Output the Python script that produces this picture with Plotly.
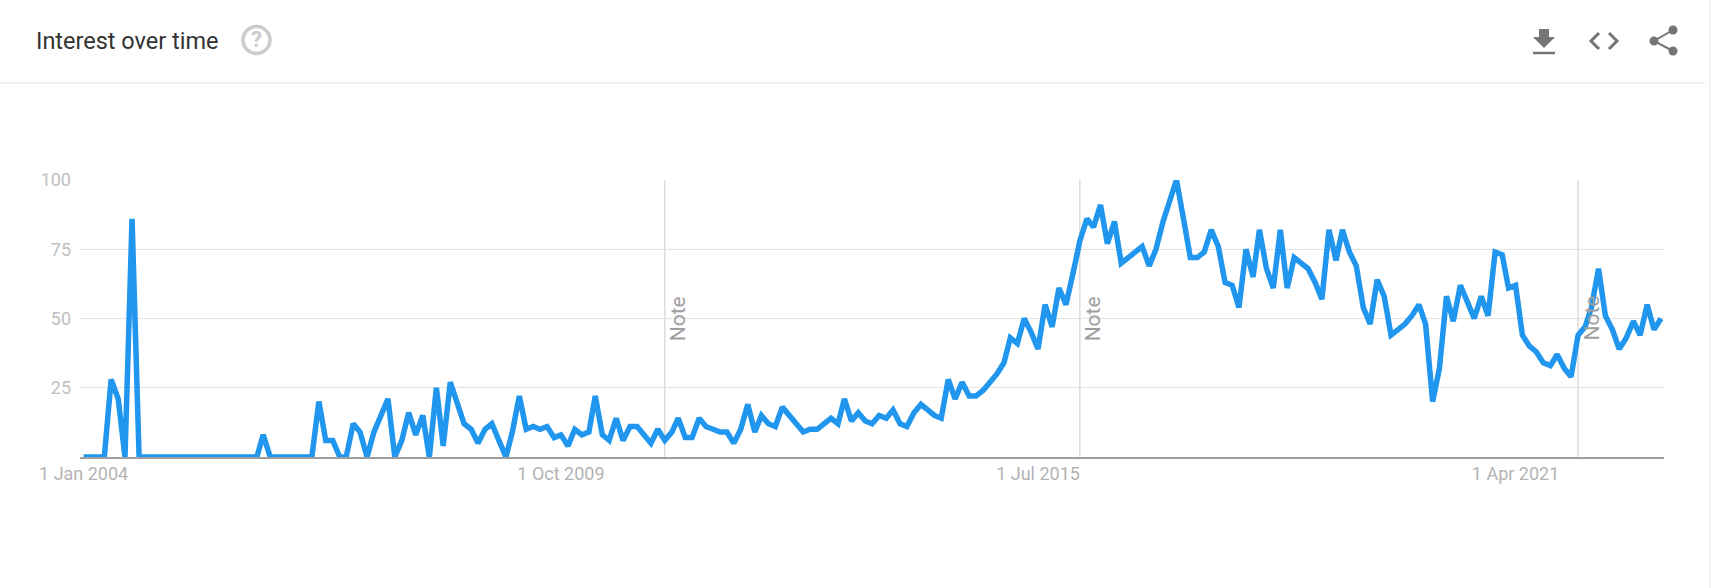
import pandas as pd
import plotly.graph_objects as go

######### DATA #########
interest = [
    0, 0, 0, 0, 28, 21, 0, 86, 0, 0, 0, 0, 0, 0, 0, 0, 0, 0, 0, 0, 0, 0, 0, 0, 0, 0,
    8, 0, 0, 0, 0, 0, 0, 0, 20, 6, 6, 0, 0, 12, 9, 0, 9, 15, 21, 0, 6, 16, 8, 15,
    0, 25, 4, 27, 19, 12, 10, 5, 10, 12, 6, 0, 9, 22, 10, 11, 10, 11, 7, 8,
    4, 10, 8, 9, 22, 8, 6, 14, 6, 11, 11, 8, 5, 10, 6, 9, 14, 7, 7, 14,
    11, 10, 9, 9, 5, 10, 19, 9, 15, 12, 11, 18, 15, 12, 9, 10, 10, 12, 14, 12,
    21, 13, 16, 13, 12, 15, 14, 17, 12, 11, 16, 19, 17, 15, 14, 28, 21, 27, 22, 22,
    24, 27, 30, 34, 43, 41, 50, 45, 39, 55, 47, 61, 55, 66, 78, 86, 83, 91, 77, 85,
    70, 72, 74, 76, 69, 75, 85, 93, 100, 86, 72, 72, 74, 82, 76, 63, 62, 54, 75, 65,
    82, 68, 61, 82, 61, 72, 70, 68, 63, 57, 82, 71, 82, 74, 69, 54, 48, 64, 58, 44,
    46, 48, 51, 55, 48, 20, 32, 58, 49, 62, 56, 50, 58, 51, 74, 73, 61, 62, 44, 40,
    38, 34, 33, 37, 32, 29, 44, 47, 54, 68, 51, 46, 39, 43, 49, 44, 55, 46, 50,
]
months = pd.date_range("2004-01-01", periods=len(interest), freq="MS")

tick_dates = ["2004-01-01", "2009-10-01", "2015-07-01", "2021-04-01"]
tick_labels = ["1 Jan 2004", "1 Oct 2009", "1 Jul 2015", "1 Apr 2021"]
note_dates = ["2011-01-01", "2016-01-01", "2022-01-01"]
y_ticks = [25, 50, 75, 100]

######### LAYOUT #########
W, H = 1711, 588
LEFT, RIGHT, TOP, BOTTOM = 80, 1664, 180, 457
ICON = "#757575"


def PX(x):
    return (x - LEFT) / (RIGHT - LEFT)


def PY(y):
    return (BOTTOM - y) / (BOTTOM - TOP)


def PATH(points, close=False):
    d = "M" + " L".join(f"{PX(x):.5f},{PY(y):.5f}" for x, y in points)
    return d + (" Z" if close else "")


def LINE_SHAPE(points, color=ICON, width=2.5):
    return dict(type="path", xref="paper", yref="paper", path=PATH(points),
                line=dict(color=color, width=width), layer="above")


def CIRCLE(cx, cy, r, fill, line_color, width=0):
    return dict(type="circle", xref="paper", yref="paper",
                x0=PX(cx - r), x1=PX(cx + r), y0=PY(cy + r), y1=PY(cy - r),
                fillcolor=fill, line=dict(color=line_color, width=width), layer="above")


fig = go.Figure()
fig.add_trace(go.Scatter(
    x=months, y=interest, mode="lines",
    line=dict(color="#2196EE", width=5.5, shape="linear"),
    hoverinfo="x+y", showlegend=False,
))

shapes = []
# header divider
shapes.append(LINE_SHAPE([(0, 83), (1705, 83)], color="#e4e4e4", width=1))
# faint strip at the right edge
shapes.append(dict(type="rect", xref="paper", yref="paper", x0=PX(1709), x1=PX(1711), y0=PY(588), y1=PY(0),
                   fillcolor="#f3f3f3", line=dict(width=0), layer="above"))
# download icon
shapes.append(dict(type="path", xref="paper", yref="paper", layer="above",
                   path=PATH([(1539, 29), (1549, 29), (1549, 37), (1555, 37), (1544, 48),
                              (1533, 37), (1539, 37)], close=True),
                   fillcolor=ICON, line=dict(color=ICON, width=0)))
shapes.append(LINE_SHAPE([(1533, 53), (1555, 53)], width=2.5))
# code icon
shapes.append(LINE_SHAPE([(1599, 33), (1591, 41), (1599, 49)], width=3))
shapes.append(LINE_SHAPE([(1609, 33), (1617, 41), (1609, 49)], width=3))
# share icon
shapes.append(LINE_SHAPE([(1673, 30), (1654, 41), (1673, 51)], width=2))
shapes.append(CIRCLE(1673, 30, 4.5, ICON, ICON))
shapes.append(CIRCLE(1654, 41, 4.5, ICON, ICON))
shapes.append(CIRCLE(1673, 51, 4.5, ICON, ICON))
# help icon
shapes.append(CIRCLE(256.5, 40, 13.5, "rgba(0,0,0,0)", "#cccccc", 3.5))

# note lines
for d in note_dates:
    shapes.append(dict(type="line", xref="x", yref="y", x0=d, x1=d, y0=0, y1=100,
                       line=dict(color="#d6d6d6", width=1.3), layer="below"))

annotations = [
    dict(text="Interest over time", xref="paper", yref="paper", x=PX(33.5), y=PY(41),
         xanchor="left", yanchor="middle", showarrow=False,
         font=dict(family="Roboto", size=23.5, color="#333333")),
    dict(text="<b>?</b>", xref="paper", yref="paper", x=PX(256.5), y=PY(40),
         xanchor="center", yanchor="middle", showarrow=False,
         font=dict(family="Roboto", size=22, color="#cccccc")),
]
for d in note_dates:
    annotations.append(dict(text="Note", x=d, y=50, xref="x", yref="y", textangle=-90,
                            xshift=13, showarrow=False, xanchor="center", yanchor="middle",
                            font=dict(family="Roboto", size=21, color="#9e9e9e")))

fig.update_layout(
    width=W, height=H,
    margin=dict(l=LEFT, r=W - RIGHT, t=TOP, b=H - BOTTOM, pad=0),
    paper_bgcolor="white", plot_bgcolor="white",
    shapes=shapes, annotations=annotations,
    font=dict(family="Roboto"),
)
fig.update_xaxes(
    type="date", range=["2003-12-16", "2023-01-14"],
    tickmode="array", tickvals=tick_dates, ticktext=tick_labels,
    showgrid=False, zeroline=False, showline=True, linecolor="#9e9e9e", linewidth=1.5,
    ticks="", tickfont=dict(family="Roboto", size=18, color="#b3b3b3"),
    ticklabelstandoff=0,
)
fig.update_yaxes(
    range=[0, 100], tickmode="array", tickvals=y_ticks,
    showgrid=True, gridcolor="#e3e3e3", gridwidth=1.2, zeroline=False, showline=False,
    ticks="", tickfont=dict(family="Roboto", size=18, color="#c0c0c0"),
    ticklabelstandoff=8,
)

fig.write_html("out.html", config=dict(displayModeBar=False),
               post_script="document.body.style.margin='0';")
